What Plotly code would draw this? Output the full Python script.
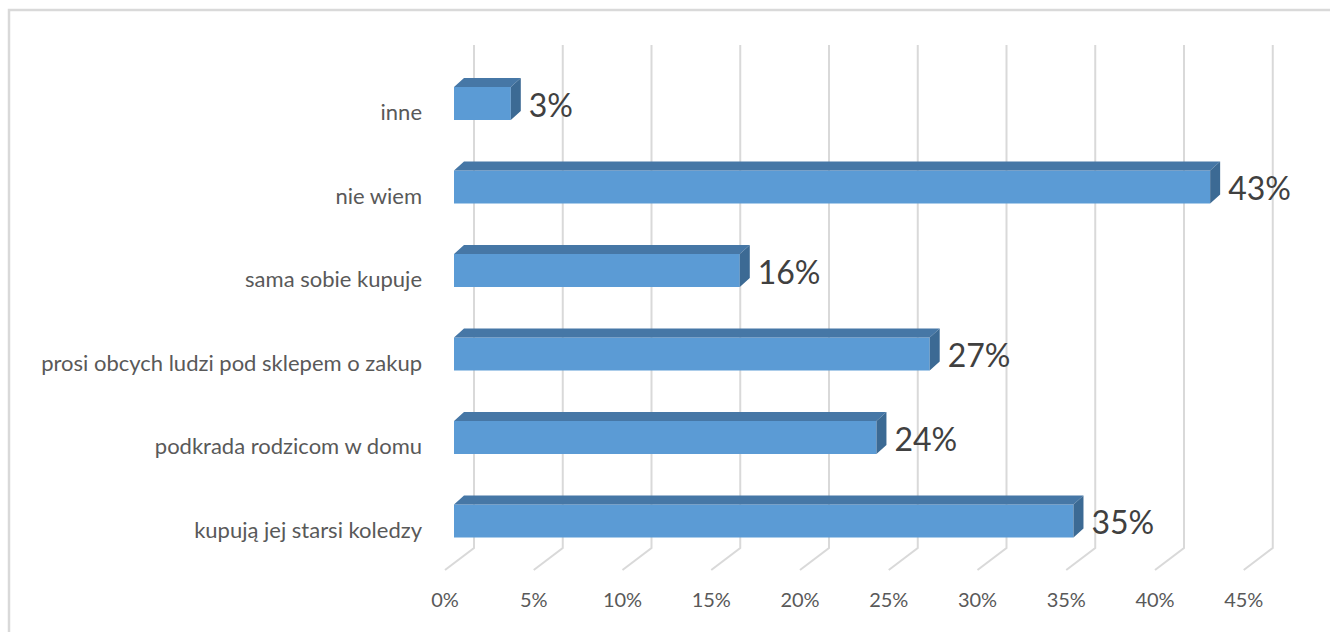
import plotly.graph_objects as go

# ---- data ----
categories = ["kupują jej starsi koledzy", "podkrada rodzicom w domu",
              "prosi obcych ludzi pod sklepem o zakup", "sama sobie kupuje",
              "nie wiem", "inne"]
values = [34.9, 23.8, 26.8, 16.1, 42.6, 3.2]
tick_values = [0, 5, 10, 15, 20, 25, 30, 35, 40, 45]
tick_labels = [f"{t}%" for t in tick_values]

# ---- geometry (pixel based 3D look) ----
W, H = 1330, 632
L, R, T, B = 430, 30, 30, 52
PX_X = 17.75          # px per percent
PX_Y = 83.5           # px per category
X0_PX = 445           # pixel of 0% on the front floor edge
Y0_PX = 521           # pixel of first category (front face centre)

def xpx(p):
    return (p - X0_PX) / PX_X

def ypx(p):
    return (Y0_PX - p) / PX_Y

x_range = [xpx(L), xpx(W - R)]
y_range = [ypx(H - B), ypx(T)]

front_off = 9 / PX_X          # bars start a bit behind the floor front edge
dx = 10 / PX_X                # bar depth (x)
dy = 9 / PX_Y                 # bar depth (y)
half = 16.5 / PX_Y            # half bar thickness
gx = 29 / PX_X                # wall depth (x)
floor_front = ypx(570)
floor_back = ypx(548)
wall_top = ypx(45)

pos = list(range(len(categories)))

fig = go.Figure()

# front faces as real bars
fig.add_trace(go.Bar(
    x=values, y=pos, base=[front_off] * len(values), orientation="h",
    width=2 * half, marker=dict(color="#5b9bd5", line=dict(width=0)),
    hoverinfo="skip", showlegend=False))

# top and side faces
tx, ty = [], []
sx, sy = [], []
for v, i in zip(values, pos):
    a = front_off
    b = front_off + v
    tx += [a, b, b + dx, a + dx, a, None]
    ty += [i + half, i + half, i + half + dy, i + half + dy, i + half, None]
    sx += [b, b, b + dx, b + dx, b, None]
    sy += [i - half, i + half, i + half + dy, i - half + dy, i - half, None]

fig.add_trace(go.Scatter(x=tx, y=ty, fill="toself", mode="lines",
                         fillcolor="#4677a6", line=dict(width=0, color="#4677a6"),
                         hoverinfo="skip", showlegend=False))
fig.add_trace(go.Scatter(x=sx, y=sy, fill="toself", mode="lines",
                         fillcolor="#3c6a94", line=dict(width=0, color="#3c6a94"),
                         hoverinfo="skip", showlegend=False))

# data labels
fig.add_trace(go.Scatter(
    x=[front_off + v + dx + 0.45 for v in values], y=[i - 0.06 for i in pos],
    mode="text", text=[f"{round(v)}%" for v in values], textposition="middle right",
    textfont=dict(family="Lato", size=32, color="#404040"),
    hoverinfo="skip", showlegend=False))

# gridlines on back wall + floor diagonals
shapes = []
for t in tick_values:
    path = (f"M {t} {floor_front} L {t + gx} {floor_back} "
            f"L {t + gx} {wall_top}")
    shapes.append(dict(type="path", path=path, xref="x", yref="y",
                       line=dict(color="#d9d9d9", width=2), layer="below"))

# outer chart border
shapes.append(dict(type="rect", xref="paper", yref="paper",
                   x0=(9 - L) / (W - L - R), x1=(W + 10 - L) / (W - L - R),
                   y0=(H - B - (H + 10)) / (H - T - B), y1=(H - B - 10) / (H - T - B),
                   line=dict(color="#d9d9d9", width=2.5), fillcolor="rgba(0,0,0,0)",
                   layer="below"))

fig.update_layout(
    width=W, height=H,
    margin=dict(l=L, r=R, t=T, b=B, autoexpand=False),
    paper_bgcolor="white", plot_bgcolor="white",
    shapes=shapes,
    xaxis=dict(range=x_range, tickvals=tick_values, ticktext=tick_labels,
               showgrid=False, zeroline=False, showline=False, ticks="",
               ticklabelstandoff=6,
               tickfont=dict(family="Lato", size=20, color="#595959"),
               fixedrange=True),
    yaxis=dict(range=y_range, tickvals=[i - 0.11 for i in pos], ticktext=categories,
               showgrid=False, zeroline=False, showline=False, ticks="",
               ticklabelstandoff=7,
               tickfont=dict(family="Lato", size=22, color="#595959"),
               fixedrange=True),
)

fig.write_html("out.html", config={"displayModeBar": False},
               post_script="document.body.style.margin='0';document.body.style.overflow='hidden';")
